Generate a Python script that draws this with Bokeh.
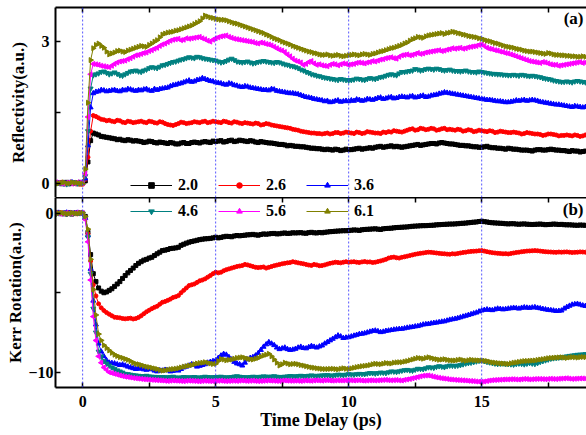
import math
from bokeh.plotting import figure
from bokeh.models import (Range1d, LinearAxis, FixedTicker, Span, Legend,
                          LegendItem, Label, ColumnDataSource, CustomLabelingPolicy)
from bokeh.layouts import column
from bokeh.embed import file_html
from bokeh.resources import INLINE

# ---------------- data (0.1 ps steps) ----------------
time_ps = [-1.0, -0.9, -0.8, -0.7, -0.6, -0.5, -0.4, -0.3, -0.2, -0.1, 0.0,
           0.1, 0.2, 0.3, 0.4, 0.5, 0.6, 0.7, 0.8, 0.9, 1.0,
           1.1, 1.2, 1.3, 1.4, 1.5, 1.6, 1.7, 1.8, 1.9, 2.0,
           2.1, 2.2, 2.3, 2.4, 2.5, 2.6, 2.7, 2.8, 2.9, 3.0,
           3.1, 3.2, 3.3, 3.4, 3.5, 3.6, 3.7, 3.8, 3.9, 4.0,
           4.1, 4.2, 4.3, 4.4, 4.5, 4.6, 4.7, 4.8, 4.9, 5.0,
           5.1, 5.2, 5.3, 5.4, 5.5, 5.6, 5.7, 5.8, 5.9, 6.0,
           6.1, 6.2, 6.3, 6.4, 6.5, 6.6, 6.7, 6.8, 6.9, 7.0,
           7.1, 7.2, 7.3, 7.4, 7.5, 7.6, 7.7, 7.8, 7.9, 8.0,
           8.1, 8.2, 8.3, 8.4, 8.5, 8.6, 8.7, 8.8, 8.9, 9.0,
           9.1, 9.2, 9.3, 9.4, 9.5, 9.6, 9.7, 9.8, 9.9, 10.0,
           10.1, 10.2, 10.3, 10.4, 10.5, 10.6, 10.7, 10.8, 10.9, 11.0,
           11.1, 11.2, 11.3, 11.4, 11.5, 11.6, 11.7, 11.8, 11.9, 12.0,
           12.1, 12.2, 12.3, 12.4, 12.5, 12.6, 12.7, 12.8, 12.9, 13.0,
           13.1, 13.2, 13.3, 13.4, 13.5, 13.6, 13.7, 13.8, 13.9, 14.0,
           14.1, 14.2, 14.3, 14.4, 14.5, 14.6, 14.7, 14.8, 14.9, 15.0,
           15.1, 15.2, 15.3, 15.4, 15.5, 15.6, 15.7, 15.8, 15.9, 16.0,
           16.1, 16.2, 16.3, 16.4, 16.5, 16.6, 16.7, 16.8, 16.9, 17.0,
           17.1, 17.2, 17.3, 17.4, 17.5, 17.6, 17.7, 17.8, 17.9, 18.0,
           18.1, 18.2, 18.3, 18.4, 18.5, 18.6, 18.7, 18.8, 18.9, 19.0]

refl_20 = [0.01, 0.00, -0.01, 0.01, 0.02, -0.01, 0.00, 0.01, -0.01, 0.02, 0.01,
           0.05, 0.45, 0.90, 1.06, 1.04, 1.02, 0.99, 0.98, 0.97, 0.96,
           0.95, 0.94, 0.92, 0.93, 0.91, 0.90, 0.92, 0.91, 0.89, 0.90,
           0.89, 0.88, 0.86, 0.87, 0.89, 0.88, 0.86, 0.85, 0.87, 0.86,
           0.85, 0.84, 0.86, 0.85, 0.83, 0.83, 0.85, 0.86, 0.84, 0.84,
           0.86, 0.87, 0.86, 0.85, 0.87, 0.88, 0.87, 0.86, 0.89, 0.88,
           0.89, 0.90, 0.87, 0.88, 0.90, 0.91, 0.88, 0.89, 0.91, 0.90,
           0.89, 0.88, 0.90, 0.89, 0.87, 0.86, 0.88, 0.87, 0.86, 0.85,
           0.85, 0.84, 0.83, 0.82, 0.82, 0.81, 0.79, 0.80, 0.79, 0.78,
           0.78, 0.77, 0.77, 0.76, 0.75, 0.74, 0.74, 0.73, 0.73, 0.72,
           0.71, 0.72, 0.71, 0.70, 0.72, 0.71, 0.69, 0.70, 0.72, 0.71,
           0.71, 0.72, 0.73, 0.74, 0.72, 0.73, 0.74, 0.75, 0.74, 0.76,
           0.77, 0.78, 0.76, 0.77, 0.78, 0.79, 0.77, 0.78, 0.77, 0.76,
           0.77, 0.78, 0.79, 0.80, 0.81, 0.82, 0.80, 0.81, 0.82, 0.83,
           0.84, 0.84, 0.83, 0.85, 0.86, 0.85, 0.84, 0.83, 0.83, 0.82,
           0.81, 0.80, 0.80, 0.79, 0.79, 0.78, 0.77, 0.77, 0.76, 0.76,
           0.77, 0.78, 0.76, 0.75, 0.75, 0.74, 0.74, 0.73, 0.72, 0.74,
           0.73, 0.72, 0.72, 0.71, 0.70, 0.70, 0.70, 0.69, 0.68, 0.70,
           0.71, 0.71, 0.70, 0.70, 0.71, 0.72, 0.71, 0.70, 0.70, 0.69,
           0.69, 0.68, 0.67, 0.69, 0.68, 0.68, 0.66, 0.67, 0.68, 0.68]

refl_26 = [0.00, 0.01, 0.02, -0.01, -0.01, 0.01, 0.01, 0.00, 0.00, -0.02, -0.02,
           0.08, 0.55, 1.10, 1.43, 1.41, 1.38, 1.35, 1.34, 1.32, 1.33,
           1.31, 1.30, 1.33, 1.32, 1.29, 1.28, 1.31, 1.30, 1.28, 1.29,
           1.30, 1.31, 1.29, 1.28, 1.31, 1.30, 1.28, 1.27, 1.30, 1.29,
           1.26, 1.24, 1.23, 1.22, 1.24, 1.26, 1.29, 1.28, 1.26, 1.27,
           1.28, 1.30, 1.29, 1.28, 1.30, 1.31, 1.28, 1.29, 1.31, 1.30,
           1.29, 1.28, 1.31, 1.30, 1.28, 1.27, 1.30, 1.29, 1.27, 1.26,
           1.28, 1.27, 1.26, 1.25, 1.27, 1.26, 1.23, 1.24, 1.26, 1.25,
           1.23, 1.22, 1.21, 1.20, 1.19, 1.18, 1.17, 1.16, 1.14, 1.13,
           1.12, 1.10, 1.09, 1.08, 1.07, 1.06, 1.06, 1.05, 1.05, 1.04,
           1.05, 1.06, 1.04, 1.05, 1.07, 1.07, 1.05, 1.06, 1.08, 1.07,
           1.06, 1.05, 1.08, 1.07, 1.05, 1.06, 1.09, 1.08, 1.07, 1.06,
           1.06, 1.05, 1.08, 1.07, 1.09, 1.08, 1.11, 1.10, 1.09, 1.08,
           1.10, 1.12, 1.14, 1.15, 1.12, 1.13, 1.16, 1.15, 1.13, 1.14,
           1.16, 1.15, 1.12, 1.13, 1.15, 1.16, 1.13, 1.14, 1.13, 1.12,
           1.14, 1.13, 1.10, 1.11, 1.13, 1.12, 1.09, 1.10, 1.12, 1.11,
           1.10, 1.09, 1.11, 1.10, 1.07, 1.08, 1.10, 1.09, 1.08, 1.07,
           1.07, 1.08, 1.07, 1.06, 1.04, 1.05, 1.07, 1.06, 1.05, 1.04,
           1.04, 1.03, 1.01, 1.02, 1.04, 1.04, 1.03, 1.02, 1.00, 1.01,
           1.01, 1.02, 1.01, 1.00, 1.02, 1.01, 0.99, 1.00, 1.02, 1.01]

refl_36 = [0.01, 0.00, -0.01, 0.01, 0.00, 0.01, 0.02, 0.00, -0.01, 0.00, 0.01,
           0.10, 0.80, 1.60, 1.90, 1.93, 1.94, 1.97, 1.96, 1.94, 1.95,
           1.96, 1.97, 1.95, 1.94, 1.97, 1.96, 1.99, 1.98, 1.96, 1.95,
           1.97, 1.96, 1.98, 1.99, 1.96, 1.95, 1.99, 1.97, 1.99, 2.00,
           2.01, 2.02, 2.05, 2.07, 2.08, 2.10, 2.11, 2.13, 2.15, 2.17,
           2.14, 2.15, 2.18, 2.19, 2.22, 2.20, 2.18, 2.16, 2.15, 2.13,
           2.12, 2.11, 2.09, 2.08, 2.11, 2.10, 2.07, 2.06, 2.04, 2.03,
           2.05, 2.04, 2.02, 2.01, 2.00, 1.99, 1.98, 1.97, 1.97, 1.96,
           1.99, 1.98, 1.95, 1.94, 1.93, 1.92, 1.91, 1.90, 1.90, 1.89,
           1.88, 1.86, 1.84, 1.82, 1.81, 1.80, 1.78, 1.77, 1.76, 1.75,
           1.73, 1.74, 1.71, 1.72, 1.74, 1.75, 1.72, 1.73, 1.74, 1.73,
           1.75, 1.74, 1.77, 1.76, 1.74, 1.75, 1.78, 1.77, 1.76, 1.78,
           1.80, 1.81, 1.78, 1.79, 1.81, 1.82, 1.79, 1.80, 1.82, 1.83,
           1.82, 1.81, 1.83, 1.84, 1.81, 1.82, 1.84, 1.85, 1.82, 1.83,
           1.85, 1.86, 1.87, 1.89, 1.90, 1.92, 1.91, 1.90, 1.89, 1.88,
           1.87, 1.86, 1.85, 1.84, 1.83, 1.82, 1.81, 1.80, 1.79, 1.78,
           1.77, 1.76, 1.76, 1.75, 1.74, 1.73, 1.73, 1.72, 1.71, 1.71,
           1.72, 1.73, 1.75, 1.74, 1.75, 1.76, 1.74, 1.75, 1.76, 1.75,
           1.74, 1.72, 1.71, 1.70, 1.69, 1.68, 1.67, 1.66, 1.66, 1.65,
           1.64, 1.63, 1.62, 1.61, 1.63, 1.62, 1.61, 1.60, 1.61, 1.62]

refl_46 = [0.00, 0.01, 0.01, -0.01, -0.02, 0.00, 0.01, 0.02, 0.00, 0.01, 0.02,
           0.15, 1.10, 2.00, 2.28, 2.30, 2.32, 2.35, 2.36, 2.33, 2.30,
           2.32, 2.34, 2.31, 2.28, 2.27, 2.30, 2.33, 2.36, 2.37, 2.38,
           2.36, 2.35, 2.38, 2.40, 2.43, 2.45, 2.44, 2.43, 2.46, 2.49,
           2.50, 2.52, 2.54, 2.56, 2.57, 2.59, 2.61, 2.62, 2.64, 2.66,
           2.65, 2.64, 2.67, 2.66, 2.64, 2.63, 2.62, 2.61, 2.60, 2.59,
           2.57, 2.55, 2.56, 2.58, 2.61, 2.63, 2.60, 2.57, 2.56, 2.55,
           2.56, 2.57, 2.55, 2.53, 2.54, 2.56, 2.57, 2.58, 2.57, 2.56,
           2.55, 2.54, 2.56, 2.55, 2.53, 2.51, 2.50, 2.48, 2.47, 2.45,
           2.43, 2.40, 2.38, 2.35, 2.33, 2.30, 2.29, 2.27, 2.26, 2.24,
           2.23, 2.22, 2.21, 2.20, 2.19, 2.18, 2.20, 2.19, 2.18, 2.17,
           2.18, 2.19, 2.21, 2.20, 2.19, 2.18, 2.20, 2.22, 2.21, 2.20,
           2.22, 2.24, 2.25, 2.27, 2.29, 2.30, 2.29, 2.28, 2.32, 2.35,
           2.35, 2.36, 2.37, 2.38, 2.41, 2.40, 2.38, 2.39, 2.41, 2.42,
           2.41, 2.40, 2.42, 2.41, 2.39, 2.38, 2.39, 2.40, 2.38, 2.37,
           2.37, 2.36, 2.37, 2.38, 2.36, 2.35, 2.35, 2.34, 2.36, 2.35,
           2.34, 2.33, 2.32, 2.31, 2.31, 2.30, 2.30, 2.29, 2.29, 2.28,
           2.28, 2.29, 2.28, 2.27, 2.29, 2.28, 2.27, 2.26, 2.27, 2.26,
           2.25, 2.24, 2.22, 2.21, 2.20, 2.19, 2.17, 2.16, 2.15, 2.14,
           2.14, 2.15, 2.14, 2.13, 2.15, 2.16, 2.15, 2.14, 2.13, 2.14]

refl_56 = [0.02, 0.01, 0.00, -0.01, 0.01, 0.02, -0.01, 0.00, 0.02, 0.01, 0.00,
           0.20, 1.40, 2.30, 2.52, 2.51, 2.50, 2.48, 2.47, 2.46, 2.45,
           2.48, 2.52, 2.55, 2.57, 2.58, 2.59, 2.62, 2.64, 2.67, 2.70,
           2.71, 2.73, 2.75, 2.76, 2.79, 2.81, 2.84, 2.86, 2.90, 2.93,
           2.95, 2.98, 3.01, 3.03, 3.04, 3.05, 3.02, 3.03, 3.06, 3.05,
           3.06, 3.07, 3.08, 3.09, 3.06, 3.04, 3.01, 2.99, 3.03, 3.06,
           3.08, 3.10, 3.11, 3.12, 3.09, 3.07, 3.05, 3.04, 3.03, 3.02,
           3.01, 3.00, 2.99, 2.98, 2.96, 2.95, 2.97, 2.96, 2.94, 2.93,
           2.91, 2.88, 2.85, 2.82, 2.80, 2.77, 2.72, 2.68, 2.63, 2.59,
           2.57, 2.55, 2.50, 2.52, 2.56, 2.58, 2.53, 2.50, 2.51, 2.49,
           2.48, 2.47, 2.50, 2.52, 2.51, 2.49, 2.51, 2.53, 2.52, 2.50,
           2.51, 2.52, 2.54, 2.55, 2.54, 2.53, 2.55, 2.56, 2.58, 2.57,
           2.59, 2.61, 2.62, 2.64, 2.65, 2.66, 2.64, 2.63, 2.67, 2.70,
           2.71, 2.72, 2.70, 2.71, 2.73, 2.75, 2.73, 2.74, 2.76, 2.77,
           2.78, 2.79, 2.80, 2.81, 2.79, 2.80, 2.82, 2.83, 2.85, 2.84,
           2.85, 2.86, 2.84, 2.85, 2.87, 2.88, 2.89, 2.90, 2.92, 2.93,
           2.90, 2.86, 2.84, 2.83, 2.81, 2.80, 2.78, 2.77, 2.75, 2.74,
           2.72, 2.70, 2.68, 2.66, 2.64, 2.62, 2.60, 2.58, 2.57, 2.56,
           2.55, 2.54, 2.56, 2.55, 2.53, 2.51, 2.50, 2.50, 2.48, 2.49,
           2.50, 2.51, 2.52, 2.53, 2.54, 2.55, 2.56, 2.54, 2.55, 2.56]

refl_61 = [-0.01, 0.00, 0.01, 0.02, 0.00, 0.00, 0.02, 0.01, 0.01, 0.00, -0.01,
           0.30, 1.70, 2.60, 2.85, 2.92, 2.95, 2.90, 2.86, 2.78, 2.72,
           2.74, 2.76, 2.79, 2.80, 2.78, 2.77, 2.80, 2.82, 2.84, 2.86,
           2.88, 2.90, 2.89, 2.88, 2.92, 2.95, 2.99, 3.02, 3.08, 3.14,
           3.16, 3.18, 3.19, 3.20, 3.22, 3.23, 3.25, 3.27, 3.29, 3.31,
           3.33, 3.36, 3.39, 3.42, 3.48, 3.54, 3.52, 3.50, 3.49, 3.47,
           3.46, 3.45, 3.45, 3.44, 3.42, 3.40, 3.38, 3.37, 3.35, 3.33,
           3.31, 3.29, 3.27, 3.25, 3.23, 3.21, 3.19, 3.17, 3.14, 3.12,
           3.09, 3.06, 3.04, 3.02, 2.99, 2.97, 2.95, 2.93, 2.90, 2.88,
           2.86, 2.84, 2.82, 2.80, 2.78, 2.77, 2.75, 2.74, 2.72, 2.71,
           2.71, 2.72, 2.70, 2.69, 2.70, 2.71, 2.69, 2.68, 2.69, 2.70,
           2.71, 2.72, 2.71, 2.70, 2.72, 2.73, 2.72, 2.71, 2.73, 2.74,
           2.76, 2.78, 2.79, 2.81, 2.83, 2.85, 2.86, 2.88, 2.90, 2.92,
           2.95, 2.97, 3.01, 3.04, 3.06, 3.09, 3.08, 3.07, 3.10, 3.12,
           3.13, 3.14, 3.15, 3.16, 3.17, 3.15, 3.17, 3.18, 3.20, 3.19,
           3.17, 3.16, 3.14, 3.13, 3.11, 3.10, 3.09, 3.08, 3.06, 3.05,
           3.03, 3.01, 3.00, 2.98, 2.96, 2.95, 2.93, 2.91, 2.89, 2.88,
           2.87, 2.86, 2.84, 2.83, 2.82, 2.80, 2.79, 2.78, 2.78, 2.77,
           2.76, 2.75, 2.74, 2.73, 2.75, 2.74, 2.72, 2.71, 2.71, 2.70,
           2.70, 2.69, 2.69, 2.68, 2.68, 2.67, 2.67, 2.68, 2.67, 2.66]

kerr_20 = [0.05, 0.02, -0.03, 0.00, 0.02, 0.04, -0.05, -0.02, 0.04, 0.02, 0.00,
           -0.20, -1.20, -2.60, -3.80, -4.30, -4.70, -4.90, -5.00, -4.95, -4.85,
           -4.75, -4.60, -4.45, -4.30, -4.10, -3.92, -3.75, -3.60, -3.45, -3.29,
           -3.15, -3.05, -2.95, -2.90, -2.82, -2.77, -2.66, -2.55, -2.45, -2.35,
           -2.32, -2.28, -2.22, -2.20, -2.18, -2.14, -2.02, -1.95, -1.88, -1.82,
           -1.78, -1.74, -1.70, -1.66, -1.63, -1.61, -1.60, -1.58, -1.55, -1.51,
           -1.55, -1.52, -1.48, -1.45, -1.46, -1.48, -1.43, -1.40, -1.42, -1.40,
           -1.38, -1.36, -1.35, -1.33, -1.36, -1.38, -1.34, -1.30, -1.32, -1.30,
           -1.28, -1.27, -1.30, -1.29, -1.26, -1.24, -1.27, -1.26, -1.23, -1.24,
           -1.23, -1.22, -1.25, -1.26, -1.22, -1.20, -1.23, -1.24, -1.21, -1.23,
           -1.20, -1.18, -1.16, -1.15, -1.13, -1.12, -1.11, -1.10, -1.10, -1.09,
           -1.07, -1.05, -1.06, -1.08, -1.04, -1.02, -1.01, -1.00, -0.99, -0.98,
           -1.00, -1.02, -0.98, -0.96, -0.95, -0.94, -0.92, -0.90, -0.89, -0.88,
           -0.87, -0.86, -0.84, -0.82, -0.81, -0.80, -0.79, -0.78, -0.78, -0.77,
           -0.76, -0.75, -0.73, -0.72, -0.71, -0.70, -0.69, -0.68, -0.68, -0.67,
           -0.66, -0.64, -0.63, -0.62, -0.60, -0.58, -0.56, -0.55, -0.52, -0.50,
           -0.53, -0.55, -0.58, -0.60, -0.61, -0.62, -0.63, -0.64, -0.66, -0.67,
           -0.66, -0.66, -0.68, -0.69, -0.68, -0.67, -0.69, -0.70, -0.71, -0.70,
           -0.69, -0.68, -0.70, -0.72, -0.71, -0.70, -0.68, -0.69, -0.71, -0.70,
           -0.72, -0.73, -0.73, -0.74, -0.75, -0.76, -0.74, -0.75, -0.76, -0.77]

kerr_26 = [-0.05, 0.00, 0.03, -0.02, -0.08, -0.03, 0.02, -0.01, -0.04, 0.01, -0.02,
           -0.30, -1.30, -3.00, -4.50, -5.20, -5.70, -5.95, -6.12, -6.25, -6.35,
           -6.45, -6.54, -6.56, -6.58, -6.62, -6.64, -6.62, -6.60, -6.65, -6.62,
           -6.55, -6.45, -6.32, -6.20, -6.10, -6.00, -5.92, -5.85, -5.72, -5.60,
           -5.55, -5.48, -5.40, -5.30, -5.25, -5.18, -5.00, -4.85, -4.70, -4.55,
           -4.50, -4.45, -4.35, -4.25, -4.20, -4.13, -4.02, -3.92, -3.80, -3.71,
           -3.75, -3.71, -3.62, -3.55, -3.50, -3.45, -3.40, -3.35, -3.32, -3.29,
           -3.22, -3.25, -3.30, -3.35, -3.40, -3.42, -3.40, -3.38, -3.45, -3.40,
           -3.35, -3.30, -3.26, -3.22, -3.18, -3.15, -3.12, -3.10, -3.05, -3.08,
           -3.12, -3.15, -3.18, -3.22, -3.26, -3.28, -3.22, -3.25, -3.30, -3.29,
           -3.25, -3.20, -3.15, -3.12, -3.08, -3.10, -3.12, -3.08, -3.05, -3.08,
           -3.06, -3.05, -3.08, -3.10, -3.06, -3.04, -3.07, -3.06, -3.10, -3.08,
           -3.04, -3.00, -2.95, -2.90, -2.82, -2.78, -2.76, -2.80, -2.82, -2.77,
           -2.74, -2.70, -2.66, -2.62, -2.58, -2.55, -2.52, -2.50, -2.47, -2.45,
           -2.46, -2.48, -2.50, -2.52, -2.54, -2.55, -2.57, -2.58, -2.55, -2.56,
           -2.53, -2.50, -2.47, -2.45, -2.42, -2.40, -2.39, -2.38, -2.36, -2.35,
           -2.38, -2.42, -2.45, -2.48, -2.50, -2.52, -2.53, -2.55, -2.54, -2.56,
           -2.53, -2.50, -2.47, -2.45, -2.42, -2.40, -2.38, -2.37, -2.36, -2.35,
           -2.36, -2.38, -2.40, -2.42, -2.43, -2.44, -2.45, -2.46, -2.44, -2.45,
           -2.44, -2.43, -2.45, -2.47, -2.46, -2.45, -2.43, -2.44, -2.45, -2.46]

kerr_36 = [0.00, 0.03, -0.05, -0.01, 0.04, 0.02, -0.02, 0.01, 0.03, -0.02, -0.03,
           -0.30, -1.40, -3.50, -5.50, -7.00, -8.20, -8.70, -9.00, -9.25, -9.40,
           -9.42, -9.45, -9.50, -9.55, -9.52, -9.58, -9.65, -9.70, -9.75, -9.80,
           -9.78, -9.75, -9.82, -9.85, -9.80, -9.82, -9.90, -9.95, -9.88, -9.90,
           -9.85, -9.88, -9.95, -9.92, -9.85, -9.90, -9.80, -9.70, -9.65, -9.58,
           -9.50, -9.55, -9.65, -9.60, -9.55, -9.50, -9.40, -9.35, -9.30, -9.26,
           -9.10, -8.95, -8.85, -8.90, -9.05, -9.20, -9.35, -9.45, -9.50, -9.58,
           -9.40, -9.20, -9.10, -9.05, -8.95, -8.80, -8.60, -8.40, -8.25, -8.11,
           -8.20, -8.30, -8.45, -8.55, -8.50, -8.45, -8.55, -8.60, -8.58, -8.53,
           -8.45, -8.40, -8.48, -8.50, -8.42, -8.35, -8.40, -8.45, -8.38, -8.32,
           -8.20, -8.10, -8.00, -7.90, -7.80, -7.69, -7.75, -7.85, -7.82, -7.80,
           -7.75, -7.70, -7.65, -7.60, -7.58, -7.55, -7.50, -7.45, -7.40, -7.38,
           -7.42, -7.48, -7.45, -7.40, -7.38, -7.35, -7.32, -7.30, -7.28, -7.27,
           -7.24, -7.20, -7.18, -7.15, -7.12, -7.10, -7.05, -7.00, -6.98, -6.96,
           -6.93, -6.90, -6.88, -6.85, -6.82, -6.80, -6.75, -6.70, -6.67, -6.64,
           -6.60, -6.55, -6.50, -6.45, -6.40, -6.35, -6.30, -6.25, -6.18, -6.12,
           -6.08, -6.05, -6.08, -6.10, -6.05, -6.00, -6.02, -6.05, -6.03, -6.00,
           -5.98, -5.95, -5.97, -6.00, -5.95, -5.92, -5.94, -5.95, -5.93, -5.91,
           -5.95, -5.98, -6.02, -6.05, -6.08, -6.10, -6.12, -6.15, -6.14, -6.12,
           -6.00, -5.90, -5.82, -5.75, -5.72, -5.70, -5.75, -5.80, -5.83, -5.85]

kerr_46 = [-0.03, 0.00, 0.02, -0.02, -0.05, 0.00, 0.03, 0.02, 0.01, 0.00, -0.02,
           -0.30, -1.50, -3.80, -6.00, -7.50, -8.70, -9.00, -9.30, -9.45, -9.58,
           -9.70, -9.80, -9.88, -9.95, -10.02, -10.10, -10.12, -10.15, -10.18, -10.20,
           -10.22, -10.25, -10.24, -10.22, -10.26, -10.28, -10.29, -10.30, -10.31, -10.30,
           -10.31, -10.32, -10.30, -10.28, -10.32, -10.35, -10.32, -10.30, -10.31, -10.33,
           -10.31, -10.30, -10.32, -10.34, -10.31, -10.28, -10.30, -10.32, -10.31, -10.30,
           -10.29, -10.28, -10.31, -10.33, -10.31, -10.30, -10.27, -10.25, -10.28, -10.30,
           -10.31, -10.32, -10.30, -10.28, -10.29, -10.30, -10.28, -10.26, -10.27, -10.29,
           -10.27, -10.25, -10.28, -10.30, -10.29, -10.28, -10.26, -10.24, -10.25, -10.27,
           -10.24, -10.22, -10.24, -10.25, -10.22, -10.20, -10.22, -10.23, -10.21, -10.20,
           -10.19, -10.18, -10.20, -10.22, -10.18, -10.15, -10.16, -10.18, -10.15, -10.12,
           -10.14, -10.15, -10.12, -10.10, -10.11, -10.12, -10.08, -10.05, -10.06, -10.08,
           -10.05, -10.02, -10.03, -10.05, -10.00, -9.95, -9.96, -9.98, -9.94, -9.90,
           -9.87, -9.85, -9.88, -9.90, -9.84, -9.78, -9.79, -9.80, -9.75, -9.69,
           -9.70, -9.72, -9.66, -9.62, -9.65, -9.68, -9.62, -9.58, -9.59, -9.60,
           -9.58, -9.55, -9.50, -9.45, -9.42, -9.40, -9.36, -9.32, -9.28, -9.26,
           -9.30, -9.35, -9.38, -9.42, -9.45, -9.48, -9.46, -9.45, -9.47, -9.48,
           -9.50, -9.52, -9.48, -9.45, -9.47, -9.50, -9.46, -9.42, -9.45, -9.48,
           -9.42, -9.35, -9.30, -9.25, -9.20, -9.15, -9.12, -9.10, -9.08, -9.06,
           -9.03, -9.00, -8.97, -8.95, -8.93, -8.90, -8.89, -8.88, -8.86, -8.85]

kerr_56 = [0.02, 0.00, -0.04, -0.01, 0.03, 0.01, -0.02, 0.02, 0.04, 0.02, 0.01,
           -0.40, -1.80, -4.20, -6.50, -8.00, -9.00, -9.40, -9.70, -9.85, -10.00,
           -10.05, -10.10, -10.15, -10.20, -10.24, -10.28, -10.30, -10.33, -10.36, -10.38,
           -10.40, -10.42, -10.44, -10.45, -10.46, -10.48, -10.49, -10.50, -10.51, -10.52,
           -10.54, -10.55, -10.53, -10.52, -10.53, -10.54, -10.55, -10.56, -10.54, -10.53,
           -10.54, -10.55, -10.56, -10.57, -10.55, -10.54, -10.55, -10.56, -10.56, -10.55,
           -10.54, -10.53, -10.55, -10.56, -10.55, -10.54, -10.54, -10.55, -10.53, -10.52,
           -10.54, -10.55, -10.54, -10.53, -10.55, -10.56, -10.55, -10.54, -10.53, -10.52,
           -10.53, -10.54, -10.55, -10.55, -10.53, -10.52, -10.53, -10.54, -10.54, -10.53,
           -10.54, -10.55, -10.53, -10.52, -10.53, -10.54, -10.52, -10.51, -10.52, -10.53,
           -10.51, -10.50, -10.52, -10.53, -10.52, -10.51, -10.52, -10.52, -10.51, -10.50,
           -10.51, -10.52, -10.51, -10.50, -10.52, -10.53, -10.52, -10.51, -10.51, -10.52,
           -10.51, -10.50, -10.49, -10.48, -10.50, -10.51, -10.50, -10.49, -10.51, -10.52,
           -10.48, -10.45, -10.42, -10.38, -10.34, -10.30, -10.26, -10.22, -10.21, -10.20,
           -10.24, -10.28, -10.32, -10.35, -10.38, -10.40, -10.42, -10.45, -10.46, -10.48,
           -10.49, -10.50, -10.51, -10.52, -10.54, -10.55, -10.56, -10.58, -10.59, -10.60,
           -10.58, -10.55, -10.52, -10.50, -10.49, -10.48, -10.47, -10.46, -10.45, -10.45,
           -10.44, -10.44, -10.45, -10.46, -10.44, -10.42, -10.43, -10.45, -10.44, -10.43,
           -10.42, -10.42, -10.43, -10.44, -10.42, -10.41, -10.42, -10.43, -10.41, -10.40,
           -10.39, -10.38, -10.40, -10.42, -10.41, -10.40, -10.39, -10.39, -10.40, -10.40]

kerr_61 = [-0.02, 0.01, 0.03, 0.00, -0.03, -0.01, 0.02, 0.00, -0.01, 0.01, 0.03,
           -0.20, -1.00, -2.90, -4.80, -6.40, -7.60, -8.00, -8.30, -8.48, -8.63,
           -8.78, -8.90, -8.98, -9.05, -9.10, -9.16, -9.22, -9.30, -9.40, -9.47,
           -9.50, -9.55, -9.60, -9.65, -9.68, -9.72, -9.76, -9.80, -9.86, -9.90,
           -9.88, -9.85, -9.82, -9.80, -9.78, -9.75, -9.70, -9.65, -9.62, -9.58,
           -9.55, -9.50, -9.45, -9.42, -9.40, -9.37, -9.40, -9.45, -9.48, -9.47,
           -9.30, -9.16, -9.20, -9.25, -9.22, -9.20, -9.15, -9.10, -9.08, -9.06,
           -9.10, -9.15, -9.18, -9.20, -9.15, -9.10, -9.02, -8.95, -8.90, -8.84,
           -9.00, -9.20, -9.40, -9.58, -9.50, -9.40, -9.45, -9.50, -9.48, -9.47,
           -9.50, -9.55, -9.58, -9.62, -9.66, -9.70, -9.72, -9.75, -9.77, -9.79,
           -9.80, -9.80, -9.79, -9.78, -9.80, -9.82, -9.78, -9.75, -9.78, -9.80,
           -9.76, -9.72, -9.68, -9.65, -9.62, -9.60, -9.58, -9.55, -9.50, -9.47,
           -9.48, -9.50, -9.46, -9.42, -9.44, -9.45, -9.40, -9.38, -9.37, -9.37,
           -9.33, -9.30, -9.25, -9.20, -9.15, -9.10, -9.12, -9.15, -9.10, -9.06,
           -9.10, -9.15, -9.18, -9.22, -9.20, -9.18, -9.22, -9.25, -9.26, -9.26,
           -9.23, -9.20, -9.24, -9.28, -9.25, -9.22, -9.24, -9.25, -9.26, -9.26,
           -9.28, -9.30, -9.34, -9.38, -9.40, -9.42, -9.44, -9.45, -9.46, -9.48,
           -9.44, -9.40, -9.38, -9.35, -9.32, -9.30, -9.29, -9.28, -9.27, -9.26,
           -9.23, -9.20, -9.18, -9.15, -9.12, -9.10, -9.09, -9.08, -9.07, -9.06,
           -9.08, -9.10, -9.07, -9.05, -9.06, -9.08, -9.05, -9.04, -9.05, -9.06]

series_labels = ["2.0", "2.6", "3.6", "4.6", "5.6", "6.1"]
refl_series = [refl_20, refl_26, refl_36, refl_46, refl_56, refl_61]
kerr_series = [kerr_20, kerr_26, kerr_36, kerr_46, kerr_56, kerr_61]

x_major_ticks = [0, 5, 10, 15]
x_minor_ticks = [-2.5, 2.5, 7.5, 12.5, 17.5]
refl_ticks = [0, 3]
refl_minor = [1.5]
kerr_ticks = [0, -10]
kerr_minor = [-5]

# ---------------- styling ----------------
FONT = "Liberation Serif"
colors = ["#000000", "#ff0000", "#0000ff", "#008080", "#ff00ff", "#808000"]
markers = ["square", "circle", "triangle", "inverted_triangle", "triangle", "triangle"]
angles = [0, 0, 0, 0, math.pi / 2, -math.pi / 2]
sizes = [4, 4, 5, 5, 5, 5]
legend_sizes = [5, 5, 6, 6, 6, 6]

NO_LABELS = CustomLabelingPolicy(code="""
    for (const i of indices) { indices.unset(i) }
    return indices
""")


def style_axis(ax, show_labels=True):
    ax.axis_line_width = 2
    ax.axis_line_color = "black"
    ax.major_tick_in = 5
    ax.major_tick_out = 0
    ax.minor_tick_in = 5
    ax.minor_tick_out = 0
    ax.major_tick_line_width = 1.5
    ax.minor_tick_line_width = 1.5
    ax.major_tick_line_color = "black"
    ax.minor_tick_line_color = "black"
    ax.major_label_text_font = FONT
    ax.major_label_text_font_style = "bold"
    ax.major_label_text_font_size = "16px"
    ax.major_label_text_color = "black"
    ax.axis_label_text_font = FONT
    ax.axis_label_text_font_style = "bold"
    ax.axis_label_text_font_size = "17px"
    ax.axis_label_text_color = "black"
    if not show_labels:
        ax.major_label_policy = NO_LABELS
        ax.major_label_text_font_size = "0px"
        ax.major_label_standoff = 0


xr = Range1d(-1.02, 18.94)

common = dict(frame_width=531, frame_height=190, x_range=xr,
              toolbar_location=None, output_backend="svg",
              min_border_left=55, min_border_right=0,
              outline_line_color=None, background_fill_color="white",
              x_axis_location=None)

p1 = figure(y_range=Range1d(-0.30, 3.71), min_border_top=7,
            min_border_bottom=0, **common)
p2 = figure(y_range=Range1d(-10.96, 0.99), min_border_top=0,
            min_border_bottom=0, **common)

for p in (p1, p2):
    p.grid.visible = False
    top_ax = LinearAxis(ticker=FixedTicker(ticks=x_major_ticks, minor_ticks=x_minor_ticks))
    style_axis(top_ax, show_labels=False)
    p.add_layout(top_ax, "above")
    for v in x_major_ticks:
        p.add_layout(Span(location=v, dimension="height", line_color="#3a3aff",
                          line_alpha=0.85, line_dash="2 2", line_width=1))

# top panel y axis
p1.yaxis.ticker = FixedTicker(ticks=refl_ticks, minor_ticks=refl_minor)
p1.yaxis.axis_label = "Reflectivity(a.u.)"
for ax in p1.yaxis:
    style_axis(ax)
    ax.major_label_standoff = 6
    ax.axis_label_standoff = 11

# bottom panel y axis
p2.yaxis.ticker = FixedTicker(ticks=kerr_ticks, minor_ticks=kerr_minor)
p2.yaxis.axis_label = "Kerr Rotation(a.u.)"
for ax in p2.yaxis:
    style_axis(ax)
    ax.major_label_standoff = 2
    ax.axis_label_standoff = 0

# bottom panel x axis
bottom_ax = LinearAxis(ticker=FixedTicker(ticks=x_major_ticks, minor_ticks=x_minor_ticks),
                       axis_label="Time Delay (ps)")
style_axis(bottom_ax)
bottom_ax.major_label_standoff = 8
bottom_ax.axis_label_standoff = 0
bottom_ax.axis_label_text_font_size = "18px"
p2.add_layout(bottom_ax, "below")

items1, items2 = [], []
for i, lab in enumerate(series_labels):
    src = ColumnDataSource(dict(t=time_ps, r=refl_series[i], k=kerr_series[i]))
    l1 = p1.line("t", "r", source=src, line_color=colors[i], line_width=1)
    s1 = p1.scatter("t", "r", source=src, marker=markers[i], angle=angles[i],
                    size=sizes[i], fill_color=colors[i], line_color=colors[i])
    l2 = p2.line("t", "k", source=src, line_color=colors[i], line_width=1)
    s2 = p2.scatter("t", "k", source=src, marker=markers[i], angle=angles[i],
                    size=sizes[i], fill_color=colors[i], line_color=colors[i])
    if i < 3:
        items1.append(LegendItem(label=lab, renderers=[l1, s1]))
    else:
        items2.append(LegendItem(label=lab, renderers=[l2, s2]))


def make_legend(items, loc):
    return Legend(items=items, orientation="horizontal", location=loc,
                  glyph_width=42, glyph_height=14, label_standoff=6, spacing=20,
                  padding=0, margin=0, border_line_color=None,
                  background_fill_alpha=0, label_text_font=FONT,
                  label_text_font_style="bold", label_text_font_size="16px",
                  label_height=16, label_text_color="black")


p1.add_layout(make_legend(items1, (75, 3)))
p2.add_layout(make_legend(items2, (75, 167)))

lab_style = dict(x_units="screen", y_units="screen", text_align="right",
                 text_baseline="top", text_font=FONT, text_font_style="bold",
                 text_font_size="17px", text_color="black")
p1.add_layout(Label(x=528, y=189, text="(a)", **lab_style))
p2.add_layout(Label(x=528, y=188, text="(b)", **lab_style))

layout = column(p1, p2, spacing=0)
open("out.html", "w").write(file_html(layout, INLINE))
